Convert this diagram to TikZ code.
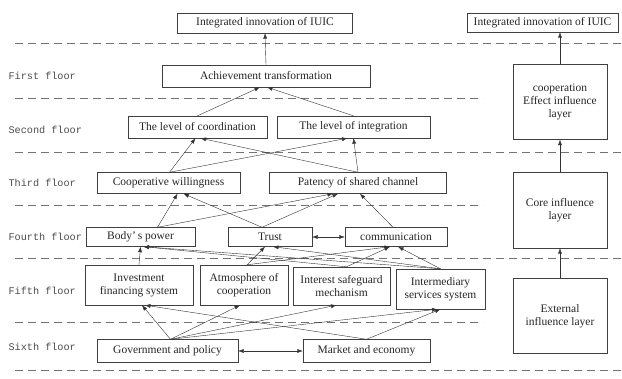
\documentclass[tikz,border=0pt]{standalone}
\usepackage{fontspec}
\setmainfont{Liberation Serif}
\setmonofont{Liberation Mono}
\usetikzlibrary{arrows.meta}

\begin{document}
\begin{tikzpicture}[x=1pt,y=-1pt,thin,draw=black!80,
    >={Latex[length=5.5pt,width=4pt]},
    box/.style={draw=black!75,inner sep=1pt,align=center,text=black!85,
                font=\fontsize{11.5}{13}\selectfont},
    floor/.style={anchor=west,text=black!70,font=\ttfamily\fontsize{10.2}{11}\selectfont},
    sep/.style={draw=black!55,dash pattern=on 8pt off 5pt}]
\useasboundingbox (0,0) rectangle (622,379);

% floors
\foreach \y/\xe in {43/622,98/483,152/622,205/483,258/622,322/483,370/622}
    \draw[sep] (15,\y) -- (\xe,\y);
\foreach \y/\t in {76/First,130/Second,183/Third,237/Fourth,291/Fifth,347/Sixth}
    \node[floor] (fl\t) at (5,\y) {\t\ floor};

% left column
\draw (265,23)    node[box,minimum width=175pt,minimum height=20pt] (top) {Integrated innovation of IUIC};
\draw (266,76)    node[box,minimum width=208pt,minimum height=22pt] (ach) {Achievement transformation};
\draw (197.5,127) node[box,minimum width=139pt,minimum height=22pt] (coord) {The level of coordination};
\draw (353.5,127) node[box,minimum width=153pt,minimum height=22pt] (integ) {The level of integration};
\draw (168.5,183) node[box,minimum width=143pt,minimum height=21pt] (coop) {Cooperative willingness};
\draw (358,183)   node[box,minimum width=177pt,minimum height=21pt] (pat) {Patency of shared channel};
\draw (140.5,237) node[box,minimum width=109pt,minimum height=19pt] (body) {Body'\,s power};
\draw (270,237)   node[box,minimum width=84pt,minimum height=19pt] (trust) {Trust};
\draw (396,237)   node[box,minimum width=102pt,minimum height=19pt] (comm) {communication};
\draw (139,285)   node[box,minimum width=108pt,minimum height=40pt] (inv) {Investment\\financing system};
\draw (244,285)   node[box,minimum width=88pt,minimum height=40pt] (atm) {Atmosphere of\\cooperation};
\draw (341.5,286) node[box,minimum width=97pt,minimum height=38pt] (safe) {Interest safeguard\\mechanism};
\draw (440.5,289) node[box,minimum width=89pt,minimum height=40pt] (serv) {Intermediary\\services system};
\draw (167.5,351) node[box,minimum width=141pt,minimum height=23pt] (gov) {Government and policy};
\draw (366.5,351) node[box,minimum width=127pt,minimum height=23pt] (mkt) {Market and economy};

% right column
\draw (542.5,22.5) node[box,minimum width=151pt,minimum height=19pt] (rtop) {Integrated innovation of IUIC};
\draw (560,102)    node[box,minimum width=94pt,minimum height=75pt] (reff) {cooperation\\Effect influence\\layer};
\draw (560,210)    node[box,minimum width=94pt,minimum height=76pt] (rcore) {Core influence\\layer};
\draw (560,316)    node[box,minimum width=94pt,minimum height=75pt] (rext) {External\\influence layer};

% arrows
\draw[->] (ach.north) -- (top.south);
\draw[->] (coord.north) -- ([xshift=-6pt]ach.south);
\draw[->] (integ.north) -- ([xshift=1pt]ach.south);
\draw[->] ([xshift=1pt]coop.north) -- ([xshift=-2pt]coord.south);
\draw[->] ([xshift=1pt]coop.north) -- ([xshift=-6pt]integ.south);
\draw[->] (pat.north) -- ([xshift=3pt]coord.south);
\draw[->] (pat.north) -- (integ.south);
\draw[->] ([xshift=17pt]body.north) -- ([xshift=9pt]coop.south);
\draw[->] ([xshift=-8pt]trust.north) -- ([xshift=15pt]coop.south);
\draw[->] ([xshift=17pt]body.north) -- ([xshift=-25pt]pat.south);
\draw[->] ([xshift=-8pt]trust.north) -- ([xshift=-20pt]pat.south);
\draw[->] ([xshift=-3pt]comm.north) -- ([xshift=2pt]pat.south);
\draw[<->] (trust) -- (comm);
\draw[->] (inv.north) -- (body.south);
\draw[->] ([xshift=3pt]atm.north) -- ([xshift=-5pt]trust.south);
\draw[->] ([xshift=3pt]atm.north) -- ([xshift=-6pt]comm.south);
\draw[->] ([xshift=5pt]safe.north) -- ([xshift=3pt]body.south);
\draw[->] ([xshift=5pt]safe.north) -- ([xshift=-6pt]comm.south);
\draw[->] (serv.north) -- ([xshift=3pt]body.south);
\draw[->] (serv.north) -- ([xshift=3pt]trust.south);
\draw[->] (serv.north) -- ([xshift=2pt]comm.south);
\draw[->] ([xshift=3pt]gov.north) -- ([xshift=3pt]inv.south);
\draw[->] ([xshift=3pt]gov.north) -- ([xshift=-4pt]atm.south);
\draw[->] ([xshift=3pt]gov.north) -- ([xshift=-5pt]safe.south);
\draw[->] ([xshift=3pt]gov.north) -- ([xshift=-3pt]serv.south);
\draw[->] (mkt.north) -- ([xshift=6pt]inv.south);
\draw[->] (mkt.north) -- (serv.south);
\draw[<->] (gov) -- (mkt);
\draw[->] (rext) -- (rcore);
\draw[->] (rcore) -- (reff);
\draw[->] (reff.north) -- (reff.north |- rtop.south);
\end{tikzpicture}
\end{document}
